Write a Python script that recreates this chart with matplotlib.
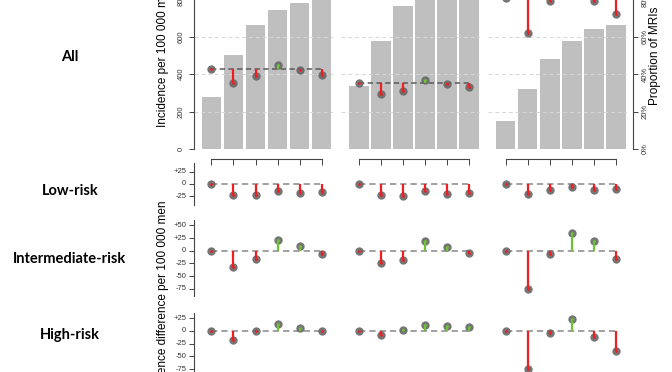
import numpy as np
import matplotlib
matplotlib.use("Agg")
import matplotlib.pyplot as plt

# proportion of MRIs (bars, %), one list per column
mri_pct = [
    [28, 50, 66.5, 74.5, 78, 82],
    [33.5, 58, 76.5, 85, 88, 90],
    [15, 32, 48, 58, 64, 66.5],
]
# incidence per 100 000 men, all men
inc_all = [
    [429, 351, 389, 451, 422, 396],
    [355, 296, 310, 369, 348, 332],
    [810, 622, 793, 850, 793, 723],
]
# incidence difference per 100 000 men by risk group
diff_low = [
    [0, -23, -23, -14, -19, -17],
    [0, -23, -25, -15, -21, -18],
    [0, -20, -12, -6, -12, -10],
]
diff_int = [
    [0, -33, -16, 22, 9, -7],
    [0, -25, -18, 20, 7, -5],
    [0, -76, -7, 35, 19, -16],
]
diff_high = [
    [0, -18, 0, 14, 6, 0],
    [0, -7, 1, 12, 10, 7],
    [0, -75, -3, 23, -11, -40],
]
row_names = ["All", "Low-risk", "Intermediate-risk", "High-risk"]

W, H = 672, 372
RED = "#f01e23"
GREEN = "#6cc335"
PT = "#666666"
AXC = "#444444"
FONT = "Liberation Sans"

fig = plt.figure(figsize=(W / 100, H / 100), dpi=100)


def ax_at(left, top, right, bottom):
    return fig.add_axes([left / W, 1 - bottom / H, (right - left) / W, (bottom - top) / H])


first_x = [211.4, 358.8, 505.7]
step = 22.06
xlo, xhi = -0.79, 5.5
x = np.arange(6)


def lollipops(ax, vals, base, dash_col, dash_lw):
    vals = np.asarray(vals, float)
    ax.plot([0, 5], [base, base], color=dash_col, lw=dash_lw, ls=(0, (3.5, 2.2)), zorder=3)
    ax.scatter(x, vals, s=36, color=PT, alpha=0.9, zorder=4, linewidths=0)
    for xi, v in zip(x, vals):
        c = GREEN if v > base else RED
        ax.plot([xi, xi], [base, v], color=c, lw=1.6, zorder=5, solid_capstyle="butt")
        ax.plot(xi, v, "o", ms=2, color=c, mec="none", zorder=6)


def clean(ax):
    for s in ax.spines.values():
        s.set_visible(False)
    ax.set_xticks([])
    ax.set_yticks([])
    ax.patch.set_alpha(0)


def left_axis(ax, ticks, labels, rot=0):
    ax.spines["left"].set_visible(True)
    ax.spines["left"].set_color(AXC)
    ax.spines["left"].set_linewidth(0.8)
    ax.set_yticks(ticks)
    ax.set_yticklabels(labels, fontsize=5.5, family=FONT, color="#333333", rotation=rot,
                       va="center")
    ax.tick_params(axis="y", length=3.5, width=0.7, color=AXC, pad=2)


# top row
for j in range(3):
    L = first_x[j] + xlo * step
    R = first_x[j] + xhi * step
    ax = ax_at(L, 149 - 900 * 0.187, R, 149)
    clean(ax)
    ax.set_xlim(xlo, xhi)
    ax.set_ylim(0, 900)
    for g in [200, 400, 600, 800]:
        ax.axhline(g, color="#d6d6d6", lw=0.7, ls=(0, (4, 3)), zorder=0)
    axr = ax.twinx()
    clean(axr)
    axr.set_ylim(0, 90)
    axr.bar(x, mri_pct[j], width=0.88, color="#bfbfbf", zorder=1)
    axr.set_zorder(0)
    ax.set_zorder(1)
    lollipops(ax, inc_all[j], inc_all[j][0], "#5a5a5a", 1.1)
    # bottom axis with ticks at bar centres
    ax.spines["bottom"].set_visible(True)
    ax.spines["bottom"].set_position(("outward", 7))
    ax.spines["bottom"].set_bounds(0, 5)
    ax.spines["bottom"].set_color(AXC)
    ax.spines["bottom"].set_linewidth(0.8)
    ax.set_xticks(x)
    ax.set_xticklabels([])
    ax.tick_params(axis="x", length=4, width=0.7, color=AXC, direction="out")
    if j == 0:
        ax.spines["left"].set_bounds(0, 900)
        left_axis(ax, [0, 200, 400, 600, 800], ["0", "200", "400", "600", "800"], rot=90)
        ax.tick_params(axis="y", pad=3)
    if j == 2:
        axr.spines["right"].set_visible(True)
        axr.spines["right"].set_position(("outward", 4))
        axr.spines["right"].set_color(AXC)
        axr.spines["right"].set_linewidth(0.8)
        axr.set_yticks([0, 20, 40, 60, 80])
        axr.set_yticklabels(["0%", "20%", "40%", "60%", "80%"], fontsize=5.5, family=FONT,
                            color="#333333", rotation=90, va="center")
        axr.tick_params(axis="y", length=3.5, width=0.7, color=AXC, pad=3)

# difference rows: (data, zero pixel, px per unit, ylim, ticks)
rows = [
    (diff_low, 184.0, 0.496, (-42, 42), [25, 0, -25]),
    (diff_int, 250.7, 0.508, (-90, 60), [50, 25, 0, -25, -50, -75]),
    (diff_high, 331.0, 0.508, (-90, 36), [25, 0, -25, -50, -75]),
]
for data, y0, ppu, (lo, hi), ticks in rows:
    for j in range(3):
        L = first_x[j] + xlo * step
        R = first_x[j] + xhi * step
        ax = ax_at(L, y0 - hi * ppu, R, y0 - lo * ppu)
        clean(ax)
        ax.set_xlim(xlo, xhi)
        ax.set_ylim(lo, hi)
        lollipops(ax, data[j], 0, "#9a9a9a", 1.3)
        if j == 0:
            labs = [("+%d" % t) if t > 0 else str(t) for t in ticks]
            left_axis(ax, ticks, labs)

# row labels
for name, yc in zip(row_names, [56.7, 191, 258.7, 335]):
    fig.text(70 / W, 1 - yc / H, name, ha="center", va="center", fontsize=10.5,
             fontweight="bold", family="Lato")

fig.text(163 / W, 1 - 127 / H, "Incidence per 100 000 men", rotation=90, ha="center",
         va="bottom", fontsize=8.5, family=FONT)
fig.text(163 / W, 1 - 200 / H, "Incidence difference per 100 000 men", rotation=90,
         ha="center", va="top", fontsize=8.5, family=FONT)
fig.text(655 / W, 1 - 105 / H, "Proportion of MRIs", rotation=90, ha="center",
         va="bottom", fontsize=8.5, family=FONT)

fig.savefig("out.png", dpi=100)
